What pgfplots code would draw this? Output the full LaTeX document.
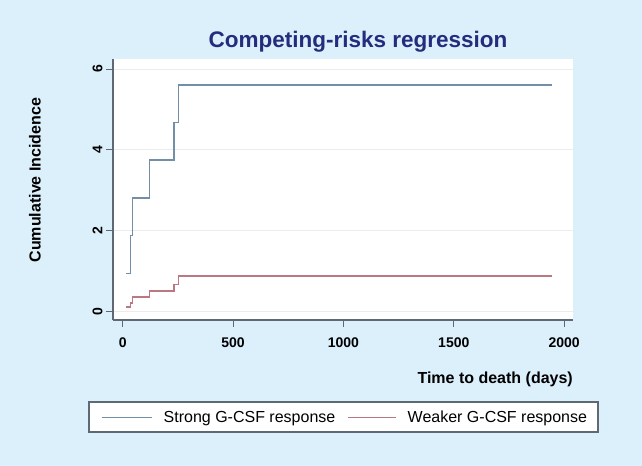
\documentclass[border=0pt]{standalone}
\usepackage{fontspec}
\setmainfont{Liberation Sans}
\usepackage{pgfplots}
\pgfplotsset{compat=1.18}
\definecolor{bgblue}{RGB}{220,240,252}
\definecolor{titleblue}{RGB}{35,45,125}
\definecolor{strongc}{RGB}{115,143,168}
\definecolor{weakc}{RGB}{188,120,130}
\definecolor{axisgray}{RGB}{95,105,115}
\definecolor{gridc}{RGB}{236,236,236}
\begin{document}
\begin{tikzpicture}
\fill[bgblue] (0,0) rectangle (642bp,466bp);
\useasboundingbox (0,0) rectangle (642bp,466bp);
% legend frame
\filldraw[fill=white, draw=axisgray, line width=1.2bp] (89bp,34bp) rectangle (598bp,64bp);
\begin{axis}[
  at={(113bp,146bp)}, anchor=south west,
  scale only axis, width=460bp, height=261bp,
  xmin=-44, xmax=2040, ymin=-0.22, ymax=6.25,
  axis x line*=bottom, axis y line*=left,
  axis background/.style={fill=white},
  axis line style={draw=axisgray, line width=1.2bp},
  tick style={draw=axisgray, line width=1bp},
  tick align=outside, major tick length=7bp,
  xtick={0,500,1000,1500,2000}, ytick={0,2,4,6},
  ymajorgrids, grid style={draw=gridc, line width=0.8bp},
  /pgf/number format/assume math mode=true,
  /pgf/number format/1000 sep={},
  ticklabel style={font=\fontsize{14bp}{16bp}\selectfont\bfseries},
  xticklabel style={yshift=-7bp},
  yticklabel style={rotate=90, anchor=south},
  title={Competing-risks regression},
  title style={font=\fontsize{22.5bp}{26bp}\selectfont\bfseries, text=titleblue,
    at={(axis description cs:0.5326,1.023)}, anchor=base},
  xlabel={Time to death (days)},
  xlabel style={font=\fontsize{16bp}{19bp}\selectfont\bfseries, inner sep=0pt,
    at={(axis description cs:1,0)}, anchor=base east, yshift=-63bp},
  ylabel={Cumulative Incidence},
  ylabel style={font=\fontsize{16bp}{19bp}\selectfont\bfseries,
    at={(axis description cs:-0.1696,0.536)}, anchor=center},
  legend columns=2,
  legend style={at={(axis description cs:-0.05217,-0.31418)}, anchor=north west,
    draw=none, fill=none,
    font=\fontsize{16bp}{19bp}\selectfont,
    inner xsep=11.6bp, inner ysep=7.85bp, column sep=11.5bp,
    nodes={inner sep=0pt, text height=12bp, text depth=3.5bp}},
]
\addplot[const plot, strongc, line width=1.6bp, forget plot]
  coordinates {
  (15,0.93) (36,1.87) (44,2.81) (121,3.74) (231,4.68) (252,5.61) (1944,5.61)};
\addplot[const plot, weakc, line width=1.6bp, forget plot]
  coordinates {
  (15,0.10) (36,0.20) (44,0.35) (121,0.50) (231,0.66) (252,0.87) (1944,0.87)};
\addlegendimage{legend image code/.code={\draw[strongc, line width=1.4bp] (0bp,0bp) -- (50bp,0bp);}}
\addlegendentry{Strong G-CSF response}
\addlegendimage{legend image code/.code={\draw[weakc, line width=1.4bp] (0bp,0bp) -- (48bp,0bp);}}
\addlegendentry{Weaker G-CSF response}
\end{axis}
\end{tikzpicture}
\end{document}
